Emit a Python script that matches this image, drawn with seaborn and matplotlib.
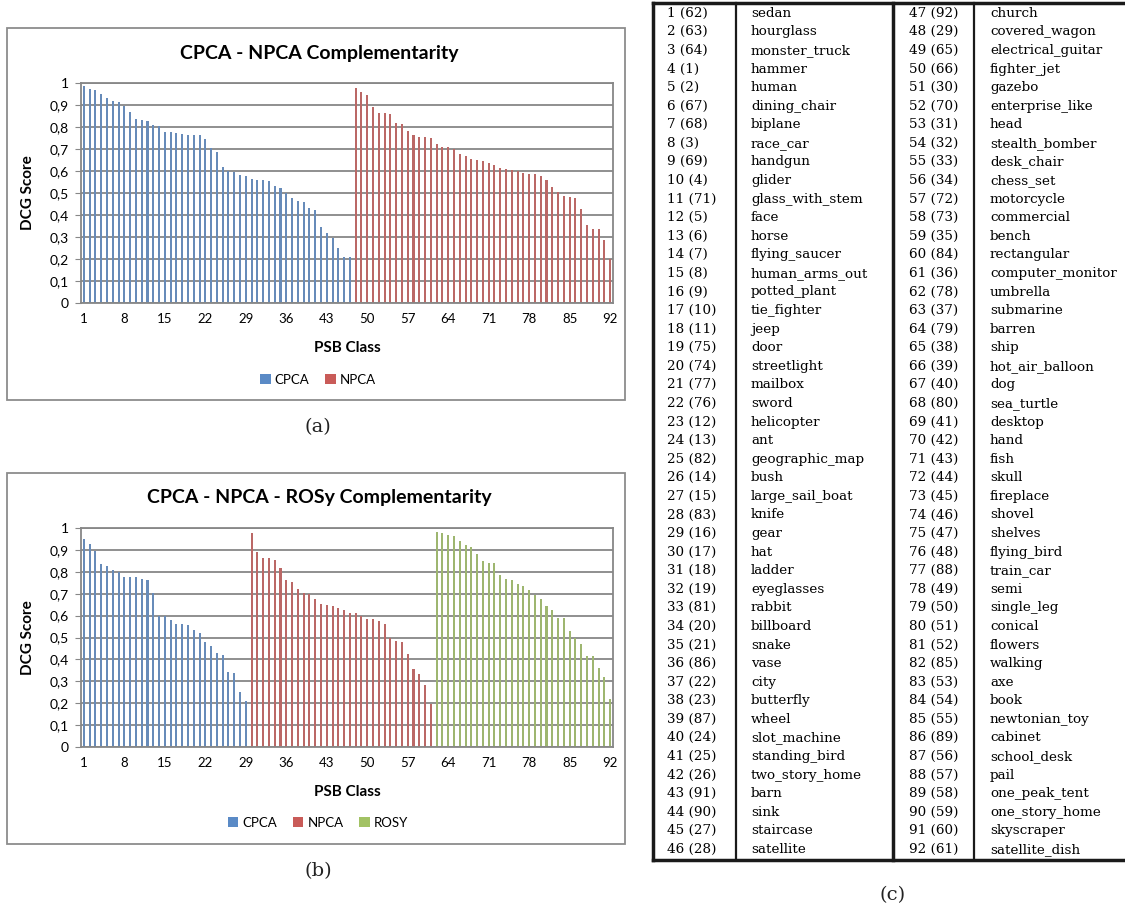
import numpy as np
import pandas as pd
import matplotlib.pyplot as plt
import seaborn as sns
from matplotlib.patches import Patch, Rectangle

W, H = 1125, 906

# (a) DCG score per PSB class, sorted, CPCA block then NPCA block
cpca_a = [0.985, 0.971, 0.967, 0.949, 0.931, 0.92, 0.915, 0.894, 0.867, 0.837,
          0.834, 0.828, 0.807, 0.804, 0.778, 0.776, 0.773, 0.767, 0.763, 0.763,
          0.763, 0.745, 0.705, 0.686, 0.618, 0.6, 0.597, 0.582, 0.579, 0.563,
          0.56, 0.559, 0.554, 0.533, 0.523, 0.498, 0.479, 0.464, 0.458, 0.43,
          0.421, 0.344, 0.319, 0.296, 0.252, 0.21, 0.21]
npca_a = [0.977, 0.961, 0.947, 0.89, 0.863, 0.863, 0.857, 0.817, 0.814, 0.782,
          0.764, 0.755, 0.754, 0.752, 0.725, 0.71, 0.708, 0.698, 0.677, 0.668,
          0.653, 0.65, 0.645, 0.637, 0.627, 0.615, 0.61, 0.604, 0.6, 0.589,
          0.586, 0.585, 0.577, 0.56, 0.529, 0.503, 0.486, 0.483, 0.477, 0.426,
          0.355, 0.337, 0.335, 0.285, 0.2]

# (b) CPCA / NPCA / ROSy
cpca_b = [0.948, 0.929, 0.895, 0.837, 0.825, 0.806, 0.8, 0.777, 0.777, 0.774,
          0.767, 0.763, 0.704, 0.599, 0.598, 0.58, 0.561, 0.561, 0.558, 0.534,
          0.522, 0.478, 0.463, 0.428, 0.421, 0.341, 0.336, 0.252, 0.211]
npca_b = [0.977, 0.891, 0.862, 0.862, 0.856, 0.816, 0.763, 0.752, 0.723, 0.705,
          0.697, 0.674, 0.651, 0.648, 0.642, 0.634, 0.626, 0.613, 0.61, 0.6,
          0.584, 0.584, 0.575, 0.56, 0.5, 0.484, 0.481, 0.423, 0.355, 0.335,
          0.285, 0.197]
rosy_b = [0.983, 0.977, 0.966, 0.962, 0.942, 0.923, 0.913, 0.883, 0.848, 0.838,
          0.838, 0.785, 0.769, 0.763, 0.743, 0.736, 0.716, 0.692, 0.677, 0.645,
          0.624, 0.59, 0.589, 0.528, 0.498, 0.469, 0.416, 0.414, 0.36, 0.319,
          0.218]

y_ticks = [0, 0.1, 0.2, 0.3, 0.4, 0.5, 0.6, 0.7, 0.8, 0.9, 1]
y_ticklabels = ["0", "0,1", "0,2", "0,3", "0,4", "0,5", "0,6", "0,7", "0,8", "0,9", "1"]
x_ticks = [1, 8, 15, 22, 29, 36, 43, 50, 57, 64, 71, 78, 85, 92]

# (c) class index -> original PSB id and name
psb_ids = [62, 63, 64, 1, 2, 67, 68, 3, 69, 4, 71, 5, 6, 7, 8, 9, 10, 11, 75, 74,
           77, 76, 12, 13, 82, 14, 15, 83, 16, 17, 18, 19, 81, 20, 21, 86, 22, 23,
           87, 24, 25, 26, 91, 90, 27, 28,
           92, 29, 65, 66, 30, 70, 31, 32, 33, 34, 72, 73, 35, 84, 36, 78, 37, 79,
           38, 39, 40, 80, 41, 42, 43, 44, 45, 46, 47, 48, 88, 49, 50, 51, 52, 85,
           53, 54, 55, 89, 56, 57, 58, 59, 60, 61]
class_names = ["sedan", "hourglass", "monster_truck", "hammer", "human", "dining_chair",
               "biplane", "race_car", "handgun", "glider", "glass_with_stem", "face",
               "horse", "flying_saucer", "human_arms_out", "potted_plant", "tie_fighter",
               "jeep", "door", "streetlight", "mailbox", "sword", "helicopter", "ant",
               "geographic_map", "bush", "large_sail_boat", "knife", "gear", "hat",
               "ladder", "eyeglasses", "rabbit", "billboard", "snake", "vase", "city",
               "butterfly", "wheel", "slot_machine", "standing_bird", "two_story_home",
               "barn", "sink", "staircase", "satellite",
               "church", "covered_wagon", "electrical_guitar", "fighter_jet", "gazebo",
               "enterprise_like", "head", "stealth_bomber", "desk_chair", "chess_set",
               "motorcycle", "commercial", "bench", "rectangular", "computer_monitor",
               "umbrella", "submarine", "barren", "ship", "hot_air_balloon", "dog",
               "sea_turtle", "desktop", "hand", "fish", "skull", "fireplace", "shovel",
               "shelves", "flying_bird", "train_car", "semi", "single_leg", "conical",
               "flowers", "walking", "axe", "book", "newtonian_toy", "cabinet",
               "school_desk", "pail", "one_peak_tent", "one_story_home", "skyscraper",
               "satellite_dish"]

colors = {"CPCA": "#5A8AC6", "NPCA": "#C95B58", "ROSY": "#A2C264"}
GRID = "#878787"


def build(series):
    rows = []
    pos = 1
    for name, vals in series:
        for v in vals:
            rows.append((pos, v, name))
            pos += 1
    return pd.DataFrame(rows, columns=["cls", "score", "method"])


def px_box(x0, y0, x1, y1):
    return [x0 / W, 1 - y1 / H, (x1 - x0) / W, (y1 - y0) / H]


fig = plt.figure(figsize=(W / 100, H / 100), dpi=100)
bg = fig.add_axes([0, 0, 1, 1])
bg.set_xlim(0, W)
bg.set_ylim(H, 0)
bg.axis("off")


def chart(df, title, box, frame, legend_y):
    x0, y0, x1, y1 = box
    ax = fig.add_axes(px_box(*box))
    methods = list(df["method"].unique())
    sns.barplot(data=df, x="cls", y="score", hue="method", palette=colors,
                native_scale=True, dodge=False, width=0.36, linewidth=0,
                legend=False, ax=ax)
    ax.set_xlim(0.5, 92.5)
    ax.set_ylim(0, 1)
    ax.set_yticks(y_ticks)
    ax.set_yticklabels(y_ticklabels, fontsize=10, family="Lato")
    ax.set_xticks(x_ticks)
    ax.set_xticklabels([str(t) for t in x_ticks], fontsize=9.5, family="Lato")
    ax.yaxis.grid(True, color=GRID, linewidth=1.3)
    ax.set_axisbelow(True)
    for s in ax.spines.values():
        s.set_color(GRID)
        s.set_linewidth(1.3)
    ax.tick_params(axis="y", length=4, color=GRID, pad=5)
    ax.tick_params(axis="x", length=0, pad=7)
    ax.set_ylabel("DCG Score", fontsize=11, fontweight="bold", family="Lato")
    ax.yaxis.set_label_coords((35 - x0) / (x1 - x0), 0.5)
    ax.set_xlabel("PSB Class", fontsize=11, fontweight="bold", family="Lato")
    ax.xaxis.set_label_coords(0.5, -38 / (y1 - y0))
    bg.text((frame[0] + frame[2]) / 2 + 3, y0 - 30, title, ha="center", va="center",
            fontsize=14, fontweight="bold", family="Lato")
    bg.add_patch(Rectangle((frame[0], frame[1]), frame[2] - frame[0], frame[3] - frame[1],
                           fill=False, edgecolor="#8C8C8C", linewidth=1.3))
    handles = [Patch(facecolor=colors[m], label=m) for m in methods]
    fig.legend(handles=handles, loc="center", ncol=len(handles),
               bbox_to_anchor=(318 / W, 1 - legend_y / H), frameon=False,
               prop={"family": "Lato", "size": 9.5}, handlelength=0.8,
               handleheight=0.8, handletextpad=0.3, columnspacing=1.2)
    return ax


df_a = build([("CPCA", cpca_a), ("NPCA", npca_a)])
df_b = build([("CPCA", cpca_b), ("NPCA", npca_b), ("ROSY", rosy_b)])

chart(df_a, "CPCA - NPCA Complementarity", (81, 83, 613, 303), (7, 28, 625, 400), 380)
chart(df_b, "CPCA - NPCA - ROSy Complementarity", (81, 528, 613, 747), (7, 473, 625, 844), 823)

cap = dict(ha="center", va="center", fontsize=14, family="DejaVu Serif", color="#222222")
bg.text(318, 427, "(a)", **cap)
bg.text(318, 871, "(b)", **cap)
bg.text(893, 895, "(c)", **cap)

# table (c)
tl, tr, tt, tb = 653, 1126, 3, 860
lc = "#1a1a1a"
bg.plot([tl, tr], [tt, tt], color=lc, lw=2.5)
bg.plot([tl, tr], [tb, tb], color=lc, lw=2.5)
for x, lw in [(tl, 2.5), (736, 1.6), (893, 2.5), (974, 1.6)]:
    bg.plot([x, x], [tt, tb], color=lc, lw=lw)

row0, step = 13.3, 18.58
txt = dict(va="center", ha="left", fontsize=9.7, family="DejaVu Serif", color="#000000")
for r in range(46):
    y = row0 + r * step
    i = r
    j = r + 46
    bg.text(667, y, f"{i + 1} ({psb_ids[i]})", **txt)
    bg.text(751, y, class_names[i], **txt)
    bg.text(909, y, f"{j + 1} ({psb_ids[j]})", **txt)
    bg.text(990, y, class_names[j], **txt)

fig.savefig("out.png", dpi=100)
